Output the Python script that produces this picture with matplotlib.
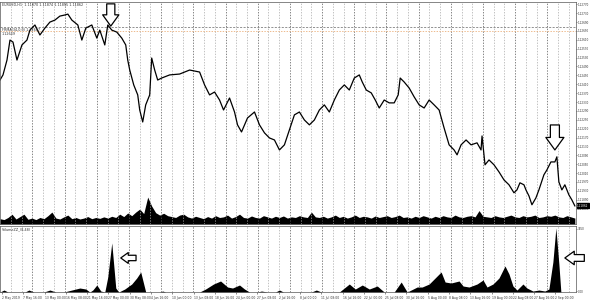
import numpy as np
import matplotlib.pyplot as plt
import matplotlib.transforms as mtransforms

# price path (bar index, close)
bars = [0, 3, 7, 10, 13, 17, 22, 27, 30, 35, 40, 45, 50, 55, 60, 65, 68, 72, 78, 82,
        86, 92, 97, 100, 105, 108, 112, 117, 122, 126, 128, 130, 134, 138, 140, 143, 146, 150, 152, 155,
        158, 162, 170, 180, 190, 200, 205, 210, 215, 220, 224, 230, 235, 238, 242, 248, 255, 260, 265, 270,
        275, 280, 285, 290, 295, 300, 305, 310, 315, 320, 325, 330, 335, 340, 345, 350, 355, 360, 363, 367,
        372, 376, 380, 385, 390, 395, 399, 401, 405, 410, 415, 420, 425, 430, 435, 440, 445, 450, 455, 458,
        462, 467, 472, 478, 482, 483, 486, 490, 495, 500, 505, 510, 515, 518, 521, 525, 527, 530, 533, 537,
        540, 545, 548, 552, 556, 558, 560, 563, 566, 570, 573, 576]
price = [1.12429, 1.12452, 1.12519, 1.12609, 1.12600, 1.12519, 1.12587, 1.12609, 1.12654, 1.12677,
         1.12632, 1.12663, 1.12690, 1.12699, 1.12717, 1.12722, 1.12726, 1.12699, 1.12677, 1.12609,
         1.12663, 1.12677, 1.12618, 1.12654, 1.12587, 1.12677, 1.12654, 1.12645, 1.12618, 1.12587,
         1.12519, 1.12474, 1.12407, 1.12362, 1.12294, 1.12240, 1.12317, 1.12362, 1.12528, 1.12474,
         1.12429, 1.12438, 1.12452, 1.12456, 1.12474, 1.12465, 1.12407, 1.12362, 1.12375, 1.12339,
         1.12294, 1.12348, 1.12285, 1.12227, 1.12195, 1.12258, 1.12285, 1.12227, 1.12191, 1.12168,
         1.12159, 1.12114, 1.12137, 1.12204, 1.12272, 1.12285, 1.12249, 1.12227, 1.12249, 1.12294,
         1.12317, 1.12285, 1.12339, 1.12384, 1.12407, 1.12384, 1.12438, 1.12452, 1.12420, 1.12384,
         1.12371, 1.12339, 1.12303, 1.12339, 1.12326, 1.12326, 1.12362, 1.12438, 1.12420, 1.12393,
         1.12353, 1.12317, 1.12303, 1.12339, 1.12317, 1.12294, 1.12213, 1.12137, 1.12114, 1.12092,
         1.12137, 1.12159, 1.12137, 1.12146, 1.12114, 1.12177, 1.12047, 1.12069, 1.12047, 1.12015,
         1.11979, 1.11957, 1.11921, 1.11934, 1.11966, 1.11957, 1.11934, 1.11907, 1.11867, 1.11898,
         1.11934, 1.12002, 1.12024, 1.12060, 1.12060, 1.12083, 1.11970, 1.11934, 1.11957, 1.11912,
         1.11889, 1.11862]

# tick volume (hundreds), one value every 4 bars
vol = [18, 15, 22, 33, 17, 25, 33, 16, 20, 15, 22, 18, 28, 40, 20, 17, 24, 30, 18, 22,
       17, 20, 25, 18, 22, 19, 24, 20, 26, 22, 33, 25, 37, 28, 40, 50, 35, 90, 60, 38,
       30, 36, 28, 25, 22, 30, 33, 24, 20, 26, 22, 18, 25, 20, 28, 22, 24, 30, 20, 25,
       33, 22, 20, 27, 22, 20, 28, 24, 20, 26, 22, 27, 20, 24, 22, 28, 24, 22, 40, 24,
       22, 26, 20, 24, 30, 22, 26, 20, 24, 30, 22, 26, 24, 20, 27, 22, 25, 28, 22, 25,
       30, 22, 24, 20, 26, 22, 28, 24, 20, 26, 22, 28, 24, 22, 30, 24, 22, 26, 28, 24,
       45, 26, 24, 22, 28, 24, 22, 26, 30, 24, 22, 28, 24, 26, 30, 22, 24, 28, 26, 30,
       24, 22, 28, 24, 20]
vol_bars = list(range(0, 4 * len(vol), 4))

# sub-window indicator
ind_x = [0, 4, 8, 25, 29, 34, 44, 50, 56, 64, 72, 80, 86, 90, 93, 97, 101, 105, 108, 112,
         116, 119, 125, 132, 137, 141, 144, 146, 160, 163, 166, 200, 206, 214, 221, 228, 233, 240, 245, 250,
         258, 262, 268, 276, 280, 284, 312, 317, 322, 340, 345, 350, 356, 363, 370, 378, 385, 395, 402, 408,
         412, 418, 423, 430, 436, 442, 446, 452, 460, 464, 470, 478, 484, 488, 494, 500, 506, 510, 514, 518,
         524, 528, 534, 540, 546, 550, 554, 557, 560, 562, 576]
ind_y = [0, 2, 0, 0, 2, 0, 0, 2, 0, 0, 2, 4, 3, 0, 2, 7, 1, 0, 15, 49,
         4, 0, 3, 8, 14, 20, 8, 0, 0, 1, 0, 0, 3, 8, 11, 5, 4, 7, 3, 0,
         0, 1, 0, 0, 2, 0, 0, 2, 0, 0, 4, 8, 3, 7, 3, 6, 0, 0, 10, 0,
         2, 5, 5, 8, 14, 20, 10, 9, 11, 6, 5, 8, 12, 5, 8, 14, 26, 18, 6, 2,
         8, 4, 1, 2, 1, 3, 30, 64, 28, 0, 0]

date_labels = ['2 May 2019', '7 May 16:00', '13 May 00:00', '16 May 08:00', '21 May 16:00',
               '27 May 00:00', '30 May 08:00', '4 Jun 16:00', '10 Jun 00:00', '13 Jun 08:00',
               '18 Jun 16:00', '24 Jun 00:00', '27 Jun 08:00', '2 Jul 16:00', '8 Jul 00:00',
               '11 Jul 08:00', '16 Jul 16:00', '22 Jul 00:00', '25 Jul 08:00', '30 Jul 16:00',
               '5 Aug 00:00', '8 Aug 08:00', '13 Aug 16:00', '19 Aug 00:00', '22 Aug 08:00',
               '27 Aug 16:00', '2 Sep 00:00']

fs = 2.4
dfs = 2.2
rfs = 2.0
fig = plt.figure(figsize=(5.9, 3.02), dpi=100)
ax = fig.add_axes([0, 0.258, 0.976, 0.735])
sax = fig.add_axes([0, 0.033, 0.976, 0.219])

ax.set_xlim(0, 577)
ax.set_ylim(1.11780, 1.12780)
sax.set_xlim(0, 577)
sax.set_ylim(0, 66)

# grid of dashed vertical separators
for k in range(54):
    gx = 11 + 10.75 * k
    c = '#555555' if k % 3 == 2 else '#aaaaaa'
    for a in (ax, sax):
        a.axvline(gx, color=c, lw=0.5, ls=(0, (2, 2)), zorder=0)

ax.axhline(1.12667, color='#666666', lw=0.5, ls=(0, (3, 2)))
ax.axhline(1.12649, color='#e8a060', lw=0.5, ls=(0, (2, 2)))

vax = ax.twinx()
vax.set_ylim(0, 740)
vax.fill_between(vol_bars, vol, color='black', lw=0)
vax.set_yticks([])
for s in vax.spines.values():
    s.set_visible(False)

ax.set_zorder(vax.get_zorder() + 1)
ax.patch.set_visible(False)
ax.plot(bars, price, color='black', lw=0.9)

ax.yaxis.tick_right()
yt = [1.12770 - 0.0004 * k for k in range(24)]
ax.set_yticks(yt)
ax.set_yticklabels(['%.5f' % v for v in yt])
ax.set_xticks([])
ax.tick_params(axis='y', labelsize=rfs, length=1, width=0.4, pad=0.5, colors='#333333')

sax.fill_between(ind_x, ind_y, color='black', lw=0)
sax.yaxis.tick_right()
sax.set_yticks([1, 63])
sax.set_yticklabels(['0.00', '3650'])
sax.tick_params(axis='y', labelsize=rfs, length=1, width=0.4, pad=0.5, colors='#333333')
tick_pos = [2 + 21.33 * i for i in range(len(date_labels))]
sax.set_xticks(tick_pos)
sax.set_xticklabels(date_labels, ha='left')
sax.tick_params(axis='x', labelsize=dfs, length=1.5, width=0.4, pad=1, colors='#333333')

for a in (ax, sax):
    for s in a.spines.values():
        s.set_linewidth(0.5)
        s.set_color('#555555')

ax.text(0.003, 0.995, 'EURUSD,H1  1.11870 1.11874 1.11855 1.11862', transform=ax.transAxes,
        fontsize=fs, va='top', color='#333333')
ax.text(0.003, 0.885, 'FRMA(34,0.0) 1.12667', transform=ax.transAxes, fontsize=fs, va='top', color='#333333')
ax.text(0.003, 0.865, '1.12649', transform=ax.transAxes, fontsize=fs, va='top', color='#333333')
sax.text(0.003, 0.985, 'VolumeZZ_(8,48)', transform=sax.transAxes, fontsize=fs, va='top', color='#333333')

# current price marker
tr = mtransforms.blended_transform_factory(ax.transAxes, ax.transData)
ax.text(1.002, price[-1], '%.5f' % price[-1], transform=tr, fontsize=rfs, color='white', va='center',
        bbox=dict(boxstyle='square,pad=0.15', fc='black', ec='black'))

# hollow signal arrows
def block_arrow(a, tip, dx, dy, scale):
    a.annotate('', xy=tip, xytext=(dx, dy), textcoords='offset points', annotation_clip=False,
               arrowprops=dict(arrowstyle='simple,head_width=1.3,head_length=0.9,tail_width=0.65',
                               fc='white', ec='black', lw=0.9, shrinkA=0, shrinkB=0,
                               mutation_scale=scale))

block_arrow(ax, (111, 1.12672), 0, 16, 9)
block_arrow(ax, (556, 1.12114), 0, 18, 10)
block_arrow(sax, (121, 34), 11, 0, 6)
block_arrow(sax, (566, 34), 14, 0, 7.5)

fig.savefig('out.png', dpi=100)
